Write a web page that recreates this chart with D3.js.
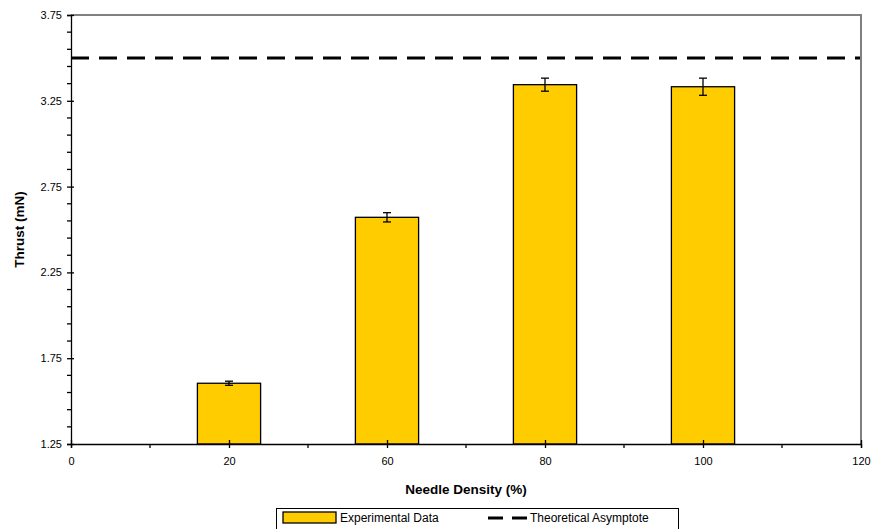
<!DOCTYPE html>
<html>
<head>
<meta charset="utf-8">
<script src="https://cdn.jsdelivr.net/npm/d3@7"></script>
<style>
  body { margin: 0; background: #fff; }
  text { font-family: "Liberation Sans", Arial, sans-serif; }
</style>
</head>
<body>
<div id="chart"></div>
<script>
// Data
var xLabels = ["0", "20", "60", "80", "100", "120"];
var barLabels = ["20", "60", "80", "100"];
var thrust = [1.604, 2.571, 3.344, 3.332];
var thrustErr = [0.012, 0.027, 0.038, 0.05];
var asymptote = 3.5;
var yTicks = [1.25, 1.75, 2.25, 2.75, 3.25, 3.75];

const width = 874, height = 529;
const margin = {top: 15, right: 13, bottom: 85, left: 71};

const svg = d3.select("#chart").append("svg")
   .attr("width", width)
   .attr("height", height);

const x = d3.scalePoint()
   .domain(xLabels)
   .range([margin.left, width - margin.right]);
const step = x.step();

const y = d3.scaleLinear()
   .domain([1.25, 3.75])
   .range([height - margin.bottom, margin.top]);

const barW = step * 0.4;

// bars
svg.append("g")
   .selectAll("rect")
   .data(barLabels)
   .enter()
   .append("rect")
   .attr("x", function(d) { return x(d) - barW / 2; })
   .attr("y", function(d, i) { return y(thrust[i]); })
   .attr("width", barW)
   .attr("height", function(d, i) { return y(1.25) - y(thrust[i]); })
   .attr("fill", "#FFCC00")
   .attr("stroke", "#000")
   .attr("stroke-width", 1.3);

// error bars
var eb = svg.append("g").attr("stroke", "#000").attr("stroke-width", 1.3);
barLabels.forEach(function(d, i) {
   var cx = x(d), lo = y(thrust[i] - thrustErr[i]), hi = y(thrust[i] + thrustErr[i]);
   eb.append("line").attr("x1", cx).attr("x2", cx).attr("y1", lo).attr("y2", hi);
   eb.append("line").attr("x1", cx - 4).attr("x2", cx + 4).attr("y1", lo).attr("y2", lo);
   eb.append("line").attr("x1", cx - 4).attr("x2", cx + 4).attr("y1", hi).attr("y2", hi);
});

// asymptote
svg.append("line")
   .attr("x1", margin.left).attr("x2", width - margin.right)
   .attr("y1", y(asymptote)).attr("y2", y(asymptote))
   .attr("stroke", "#000").attr("stroke-width", 3)
   .attr("stroke-dasharray", "18,10");

// plot frame: top/right grey
svg.append("path")
   .attr("d", "M" + margin.left + "," + y(3.75) + "H" + (width - margin.right) + "V" + y(1.25))
   .attr("fill", "none").attr("stroke", "#808080").attr("stroke-width", 2);

// y axis
var yAxis = svg.append("g").attr("transform", "translate(" + margin.left + ",0)");
yAxis.call(d3.axisLeft(y).tickValues(yTicks).tickFormat(d3.format(".2f")).tickSize(4).tickPadding(5))
   .call(function(g) {
      g.select(".domain").attr("stroke", "#000").attr("stroke-width", 1.3);
      g.selectAll(".tick line").attr("x2", 3).attr("x1", -4).attr("stroke-width", 1.3);
      g.selectAll("text").attr("font-size", 11).attr("fill", "#000");
   });
var minorY = d3.range(1.35, 3.75, 0.1).filter(function(v) {
   return yTicks.every(function(t) { return Math.abs(t - v) > 0.01; });
});
yAxis.selectAll(".minor")
   .data(minorY)
   .enter()
   .append("line")
   .attr("x1", -4).attr("x2", 0)
   .attr("y1", function(d) { return y(d); }).attr("y2", function(d) { return y(d); })
   .attr("stroke", "#000").attr("stroke-width", 1.3);

// x axis
var xAxis = svg.append("g").attr("transform", "translate(0," + y(1.25) + ")");
xAxis.call(d3.axisBottom(x).tickSize(4).tickPadding(9))
   .call(function(g) {
      g.select(".domain").attr("stroke", "#000").attr("stroke-width", 1.3);
      g.selectAll(".tick line").attr("y1", -4).attr("y2", 4).attr("stroke-width", 1.3);
      g.selectAll("text").attr("font-size", 11).attr("fill", "#000");
   });
xAxis.selectAll(".minor")
   .data(xLabels.slice(0, -1))
   .enter()
   .append("line")
   .attr("x1", function(d) { return x(d) + step / 2; })
   .attr("x2", function(d) { return x(d) + step / 2; })
   .attr("y1", 0).attr("y2", 4)
   .attr("stroke", "#000").attr("stroke-width", 1.3);

// axis titles
svg.append("text")
   .attr("x", (margin.left + width - margin.right) / 2)
   .attr("y", 494)
   .attr("text-anchor", "middle")
   .attr("font-size", 13.5).attr("font-weight", "bold")
   .text("Needle Density (%)");

svg.append("text")
   .attr("transform", "translate(24," + ((margin.top + height - margin.bottom) / 2) + ") rotate(-90)")
   .attr("text-anchor", "middle")
   .attr("font-size", 13.5).attr("font-weight", "bold")
   .text("Thrust (mN)");

// legend
var lg = svg.append("g");
lg.append("rect")
   .attr("x", 276.5).attr("y", 508.5).attr("width", 402).attr("height", 30)
   .attr("fill", "#fff").attr("stroke", "#000").attr("stroke-width", 1);
lg.append("rect")
   .attr("x", 283).attr("y", 512).attr("width", 53).attr("height", 11)
   .attr("fill", "#FFCC00").attr("stroke", "#000").attr("stroke-width", 1.3);
lg.append("text").attr("x", 340).attr("y", 522).attr("font-size", 12).text("Experimental Data");
lg.append("line")
   .attr("x1", 488).attr("x2", 527).attr("y1", 518).attr("y2", 518)
   .attr("stroke", "#000").attr("stroke-width", 3).attr("stroke-dasharray", "15,9");
lg.append("text").attr("x", 530).attr("y", 522).attr("font-size", 12).text("Theoretical Asymptote");
</script>
</body>
</html>
